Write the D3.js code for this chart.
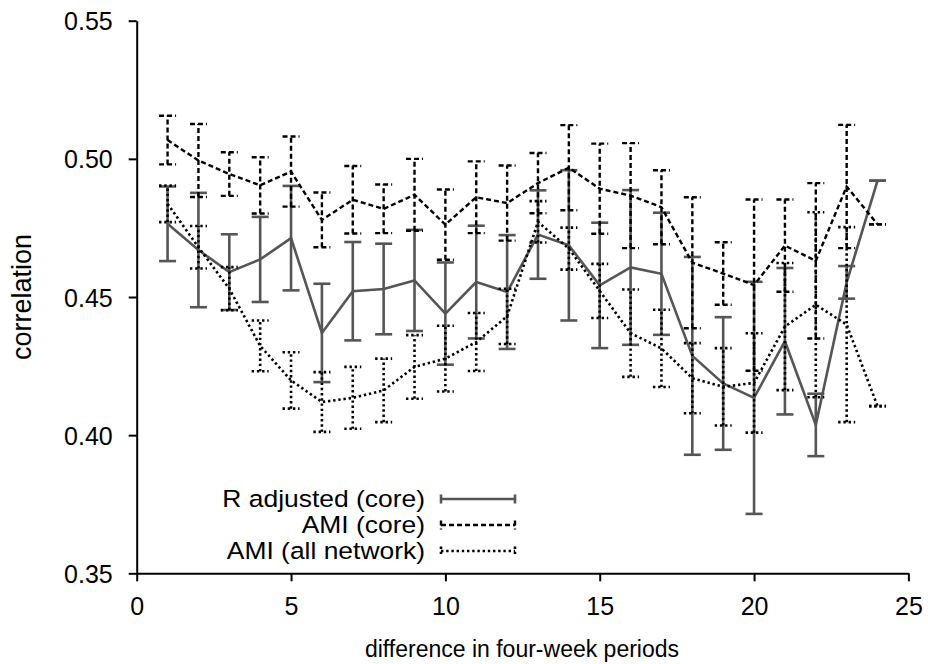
<!DOCTYPE html>
<html>
<head>
<meta charset="utf-8">
<script src="https://cdn.jsdelivr.net/npm/d3@7"></script>
<style>
  html, body { margin: 0; padding: 0; background: #fff; }
  svg { display: block; }
  text { font-family: "Liberation Sans", Arial, Helvetica, sans-serif; fill: #000; }
</style>
</head>
<body>
<svg id="chart" width="928" height="664"></svg>
<script>
// Lag between four-week periods
const periods = [1, 2, 3, 4, 5, 6, 7, 8, 9, 10, 11, 12, 13, 14, 15, 16, 17, 18, 19, 20, 21, 22, 23, 24];

// R adjusted (core): mean and half-width of error bar
const rAdjCore = [0.4765, 0.4670, 0.4590, 0.4636, 0.4713, 0.4370, 0.4521, 0.4529, 0.4560, 0.4440, 0.4554, 0.4518,
                  0.4726, 0.4687, 0.4542, 0.4607, 0.4584, 0.4287, 0.4187, 0.4135, 0.4340, 0.4037, 0.4553, 0.4921];
const rAdjCoreErr = [0.0135, 0.0207, 0.0137, 0.0154, 0.0189, 0.0178, 0.0178, 0.0164, 0.0183, 0.0185, 0.0204, 0.0206,
                     0.0160, 0.0272, 0.0227, 0.0280, 0.0221, 0.0358, 0.0240, 0.0420, 0.0265, 0.0113, 0.0059, 0.0];

// AMI (core)
const amiCore = [0.5068, 0.4994, 0.4945, 0.4904, 0.4954, 0.4779, 0.4852, 0.4819, 0.4870, 0.4762, 0.4861, 0.4840,
                 0.4912, 0.4968, 0.4892, 0.4867, 0.4825, 0.4624, 0.4585, 0.4543, 0.4686, 0.4631, 0.4900, 0.4763];
const amiCoreErr = [0.0088, 0.0132, 0.0079, 0.0102, 0.0127, 0.0099, 0.0122, 0.0088, 0.0130, 0.0127, 0.0130, 0.0136,
                    0.0109, 0.0154, 0.0163, 0.0190, 0.0134, 0.0237, 0.0113, 0.0310, 0.0167, 0.0281, 0.0223, 0.0];

// AMI (all network)
const amiAll = [0.4837, 0.4680, 0.4530, 0.4323, 0.4198, 0.4120, 0.4135, 0.4162, 0.4247, 0.4277, 0.4337, 0.4430,
                0.4772, 0.4675, 0.4522, 0.4369, 0.4314, 0.4206, 0.4175, 0.4189, 0.4393, 0.4472, 0.4400, 0.4105];
const amiAllErr = [0.0066, 0.0077, 0.0078, 0.0092, 0.0102, 0.0108, 0.0112, 0.0115, 0.0115, 0.0119, 0.0105, 0.0100,
                   0.0075, 0.0076, 0.0098, 0.0158, 0.0140, 0.0127, 0.0140, 0.0180, 0.0230, 0.0335, 0.0353, 0.0];

const xTicks = [0, 5, 10, 15, 20, 25];
const yTicks = [0.35, 0.40, 0.45, 0.50, 0.55];
const seriesNames = ["R adjusted (core)", "AMI (core)", "AMI (all network)"];

const svg = d3.select("#chart");
const x = d3.scaleLinear().domain([0, 25]).range([136.7, 908.4]);
const y = d3.scaleLinear().domain([0.35, 0.55]).range([573.3, 20.7]);

const styles = [
  { color: "#555", width: 2.6, dash: null },
  { color: "#000", width: 2.4, dash: "5,3" },
  { color: "#000", width: 2.6, dash: "2.4,2.8" }
];

const series = [
  { name: seriesNames[0], vals: rAdjCore, errs: rAdjCoreErr, style: styles[0] },
  { name: seriesNames[1], vals: amiCore, errs: amiCoreErr, style: styles[1] },
  { name: seriesNames[2], vals: amiAll, errs: amiAllErr, style: styles[2] }
];

const capHalf = 8.5;

// Axes
const yAxis = svg.append("g")
  .attr("transform", `translate(${x(0)},0)`)
  .call(d3.axisLeft(y).tickValues(yTicks).tickFormat(d3.format(".2f")).tickSize(8).tickSizeOuter(0).tickPadding(16));
const xAxis = svg.append("g")
  .attr("transform", `translate(0,${y(0.35)})`)
  .call(d3.axisBottom(x).tickValues(xTicks).tickFormat(d3.format("d")).tickSize(8).tickSizeOuter(0).tickPadding(16));
[yAxis, xAxis].forEach(g => {
  g.select(".domain").attr("stroke", "#000").attr("stroke-width", 2);
  g.selectAll(".tick line").attr("stroke", "#000").attr("stroke-width", 2);
  g.selectAll(".tick text").attr("font-size", 25).attr("font-family", "Liberation Sans, Arial, sans-serif").attr("fill", "#000");
});
yAxis.selectAll(".tick text").attr("dy", "0.36em");
xAxis.selectAll(".tick text").attr("dy", "0.72em");

// Axis titles
svg.append("text")
  .attr("transform", "translate(31,297) rotate(-90)")
  .attr("text-anchor", "middle")
  .attr("font-size", 27)
  .text("correlation");
svg.append("text")
  .attr("x", 522).attr("y", 657)
  .attr("text-anchor", "middle")
  .attr("font-size", 23)
  .text("difference in four-week periods");

// Series: connecting line plus error bars
series.forEach(s => {
  const g = svg.append("g")
    .attr("fill", "none")
    .attr("stroke", s.style.color)
    .attr("stroke-width", s.style.width)
    .attr("stroke-dasharray", s.style.dash);
  const pts = periods.map((p, i) => ({ p, v: s.vals[i], e: s.errs[i] }));
  g.append("path")
    .datum(pts)
    .attr("d", d3.line().x(d => x(d.p)).y(d => y(d.v)));
  const bars = g.selectAll("g.bar").data(pts).join("g").attr("class", "bar");
  bars.append("line")
    .attr("x1", d => x(d.p)).attr("x2", d => x(d.p))
    .attr("y1", d => y(d.v - d.e)).attr("y2", d => y(d.v + d.e));
  bars.append("line")
    .attr("x1", d => x(d.p) - capHalf).attr("x2", d => x(d.p) + capHalf)
    .attr("y1", d => y(d.v + d.e)).attr("y2", d => y(d.v + d.e));
  bars.append("line")
    .attr("x1", d => x(d.p) - capHalf).attr("x2", d => x(d.p) + capHalf)
    .attr("y1", d => y(d.v - d.e)).attr("y2", d => y(d.v - d.e));
});

// Legend (labels use a slightly wide face)
const legend = svg.append("g");
series.forEach((s, i) => {
  const yy = 499 + i * 26;
  legend.append("text")
    .attr("transform", `translate(425,${yy + 8}) scale(1.125,1)`)
    .attr("text-anchor", "end")
    .attr("font-size", 23.5)
    .text(s.name);
  const lg = legend.append("g")
    .attr("fill", "none")
    .attr("stroke", s.style.color)
    .attr("stroke-width", s.style.width)
    .attr("stroke-dasharray", s.style.dash);
  lg.append("line").attr("x1", 441).attr("x2", 515).attr("y1", yy).attr("y2", yy);
  lg.append("line").attr("x1", 441).attr("x2", 441).attr("y1", yy - 4.5).attr("y2", yy + 4.5);
  lg.append("line").attr("x1", 515).attr("x2", 515).attr("y1", yy - 4.5).attr("y2", yy + 4.5);
});
</script>
</body>
</html>
